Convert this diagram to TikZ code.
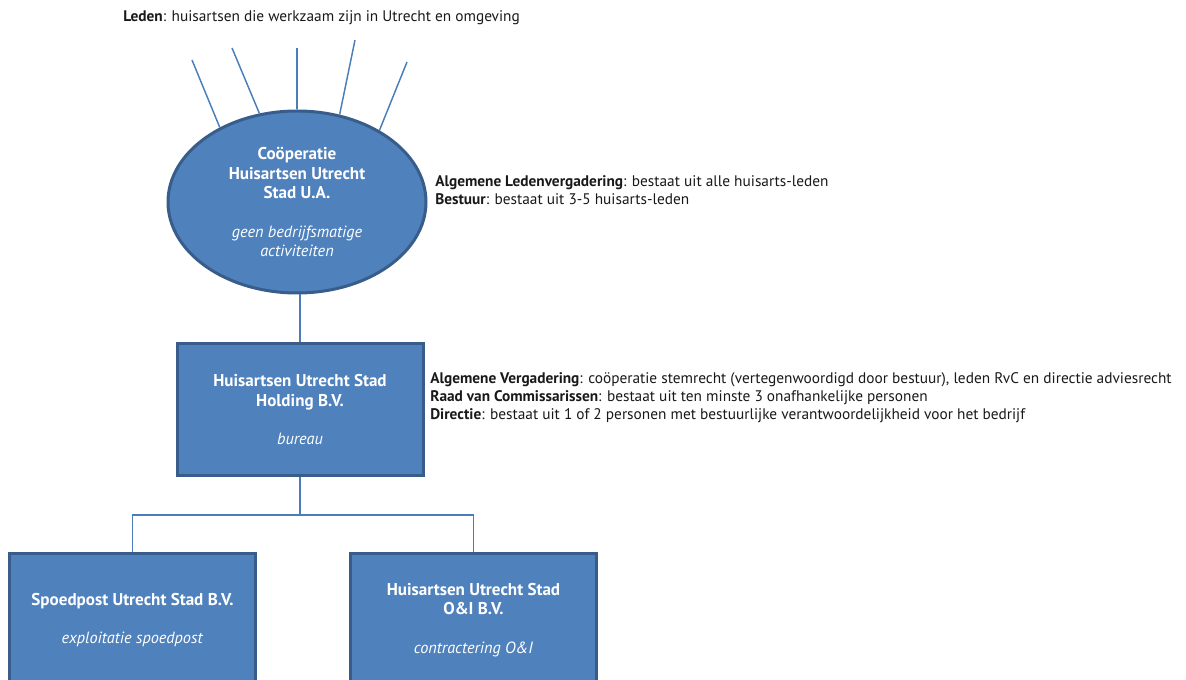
\documentclass[tikz,border=0pt]{standalone}
\usepackage{fontspec}
\setmainfont{PT Sans}
\usetikzlibrary{shapes.geometric}
\definecolor{fillblue}{HTML}{4F81BD}
\definecolor{edgeblue}{HTML}{385D8A}
\definecolor{linkblue}{HTML}{4A7EBB}
\begin{document}
\begin{tikzpicture}[x=0.75pt,y=-0.75pt,
  org/.style={fill=fillblue, draw=edgeblue, line width=2.25pt, text=white, align=center,
    font=\fontsize{12.2}{14.5}\selectfont, inner sep=0pt},
  coopshape/.style={org, ellipse, minimum width=193.5pt, minimum height=136.5pt},
  boxshape/.style={org, rectangle, minimum width=184.5pt, minimum height=99pt},
  note/.style={anchor=west, align=left, font=\fontsize{11.5}{13.5}\selectfont, text=black!90, inner sep=0pt},
  link/.style={draw=linkblue, line width=1.1pt}]
\useasboundingbox (0,0) rectangle (1186,680);
\clip (0,0) rectangle (1186,680);

% top member lines
\coordinate (t1) at (192,60);
\coordinate (t2) at (232,48);
\coordinate (t3) at (297,48);
\coordinate (t4) at (355,40);
\coordinate (t5) at (407,62);

\newcommand{\hd}[1]{{\fontsize{12.8}{14.5}\selectfont\bfseries #1}}

\node[coopshape] (coop) at (297,202) {\hd{Coöperatie}\\\hd{Huisartsen Utrecht}\\\hd{Stad U.A.}\\[14.5pt]\textit{geen bedrijfsmatige}\\\textit{activiteiten}};

\node[boxshape] (hold) at (300,410) {\hd{Huisartsen Utrecht Stad}\\\hd{Holding B.V.}\\[14.5pt]\textit{bureau}};

\node[boxshape] (spoed) at (132.5,620) {\hd{Spoedpost Utrecht Stad B.V.}\\[14.5pt]\textit{exploitatie spoedpost}};

\node[boxshape] (oi) at (473.5,620) {\hd{Huisartsen Utrecht Stad}\\\hd{O\&I B.V.}\\[14.5pt]\textit{contractering O\&I}};

\coordinate (bus) at (300,515);

\draw[link] (t1) -- (coop.136);
\draw[link] (t2) -- (coop.113);
\draw[link] (t3) -- (coop.90);
\draw[link] (t4) -- (coop.64);
\draw[link] (t5) -- (coop.41);

\draw[link] (hold.north) -- (hold.north |- coop.south);
\draw[link] (hold.south) -- (hold.south |- bus);
\draw[link] (spoed.north) |- (oi.north |- bus) -- (oi.north);

\node[note] (leden) at (123,18) {\textbf{Leden}: huisartsen die werkzaam zijn in Utrecht en omgeving};

\node[note] (alv) at (435,190) {\textbf{Algemene Ledenvergadering}: bestaat uit alle huisarts-leden\\\textbf{Bestuur}: bestaat uit 3-5 huisarts-leden};

\node[note] (av) at (430,398) {\textbf{Algemene Vergadering}: coöperatie stemrecht (vertegenwoordigd door bestuur), leden RvC en directie adviesrecht\\\textbf{Raad van Commissarissen}: bestaat uit ten minste 3 onafhankelijke personen\\\textbf{Directie}: bestaat uit 1 of 2 personen met bestuurlijke verantwoordelijkheid voor het bedrijf};
\end{tikzpicture}
\end{document}
